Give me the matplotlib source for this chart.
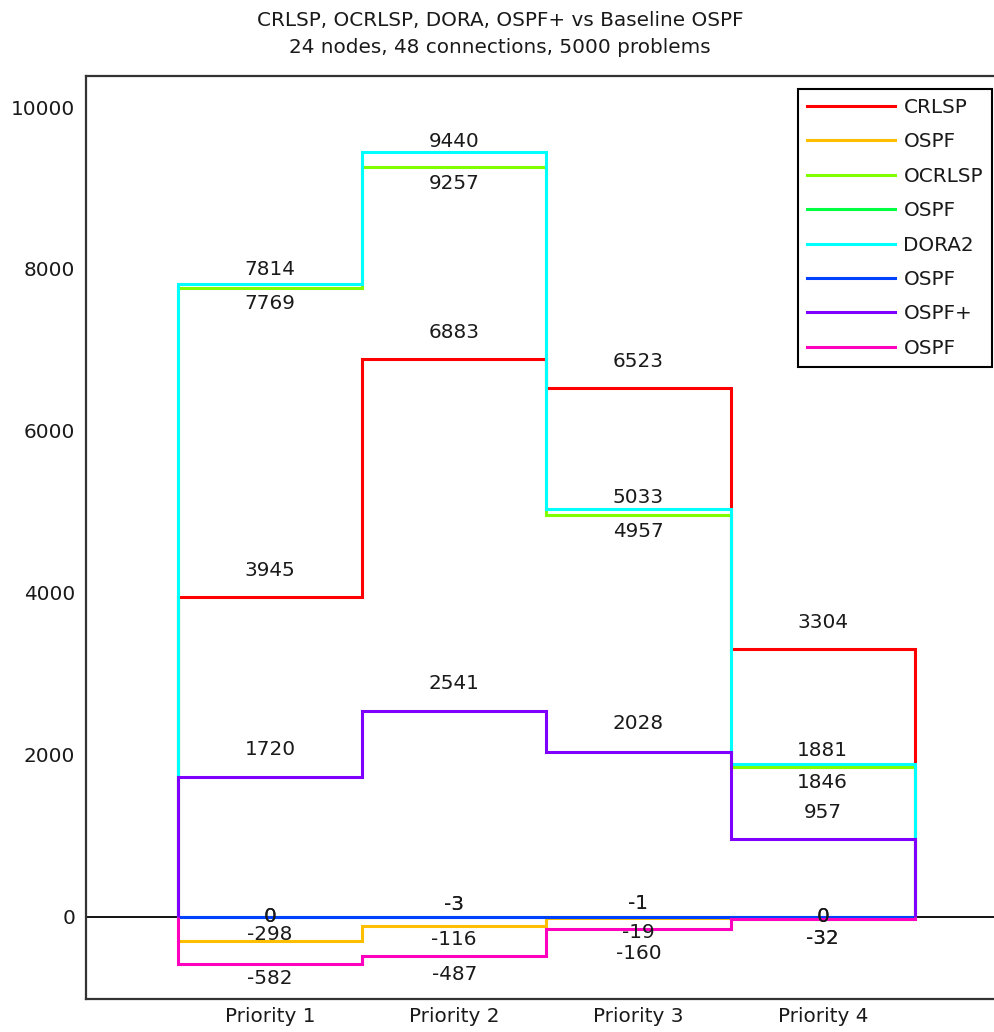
import matplotlib
matplotlib.use("Agg")
import matplotlib.pyplot as plt
from matplotlib.lines import Line2D
import numpy as np

# ---- data ----
categories = ["Priority 1", "Priority 2", "Priority 3", "Priority 4"]
series_names = ["CRLSP", "OSPF", "OCRLSP", "OSPF", "DORA2", "OSPF", "OSPF+", "OSPF"]
crlsp      = [3945, 6883, 6523, 3304]
ospf_crlsp = [-298, -116, -19, -32]
ocrlsp     = [7769, 9257, 4957, 1846]
ospf_ocr   = [0, -3, -1, 0]
dora2      = [7814, 9440, 5033, 1881]
ospf_dora  = [0, -3, -1, 0]
ospf_plus  = [1720, 2541, 2028, 957]
ospf_plusb = [-582, -487, -160, -32]
y_ticks = [0, 2000, 4000, 6000, 8000, 10000]

# ---- style ----
colors = ["#FF0000", "#FFBF00", "#80FF00", "#00FF40",
          "#00FFFF", "#0040FF", "#8000FF", "#FF00BF"]
# label vertical offsets from the line, in pixels (positive = up)
label_offsets_px = [
    [27, 27, 27, 27],
    [6, -14, -14, -19],
    [-16, -16, -16, -15],
    [0, 12, 13, 0],
    [14, 11, 12, 14],
    [0, 12, 13, 0],
    [28, 27, 29, 27],
    [-15, -19, -24, -19],
]

all_series = [crlsp, ospf_crlsp, ocrlsp, ospf_ocr, dora2, ospf_dora, ospf_plus, ospf_plusb]

W, H, DPI = 995, 1032, 100
fig = plt.figure(figsize=(W / DPI, H / DPI), dpi=DPI)
plt.rcParams['font.family'] = ['DejaVu Sans']
FS = 14.4
txt_color = "#1a1a1a"

ax = fig.add_axes([85.7 / W, 1 - 999 / H, (1007 - 85.7) / W, (999 - 75.7) / H])
ax.set_xlim(0, 5)
ax.set_ylim(-1019, 10387)

x = np.arange(1, len(categories) + 1)
edges = np.concatenate([x - 0.5, [x[-1] + 0.5]])

ax.axhline(0, color="black", lw=1.3, zorder=1)

lw = 2.2
handles = []
for i, (vals, col, name) in enumerate(zip(all_series, colors, series_names)):
    ax.stairs(vals, edges, baseline=0, fill=False, color=col, lw=lw,
              zorder=2 + i * 0.1, joinstyle="miter")
    handles.append(Line2D([], [], color=col, lw=lw, label=name))

for i, vals in enumerate(all_series):
    for j, v in enumerate(vals):
        ax.annotate(f"{v}", xy=(x[j], v), xytext=(0, label_offsets_px[i][j] * 72 / DPI),
                    textcoords="offset points", ha="center", va="center",
                    fontsize=FS, color=txt_color, zorder=10)

ax.set_xticks(x)
ax.set_xticklabels(categories)
ax.set_yticks(y_ticks)
ax.set_yticklabels([str(t) for t in y_ticks])
ax.tick_params(axis="both", length=0, labelsize=FS, colors=txt_color)
ax.tick_params(axis="x", pad=6)
ax.tick_params(axis="y", pad=7.7)
for s in ["left", "top", "bottom", "right"]:
    ax.spines[s].set_color("#333333")
    ax.spines[s].set_linewidth(1.6)

fig.text(500 / W, 1 - 21 / H, "CRLSP, OCRLSP, DORA, OSPF+ vs Baseline OSPF",
         ha="center", va="center", fontsize=FS, color=txt_color)
fig.text(500 / W, 1 - 47.5 / H, "24 nodes, 48 connections, 5000 problems",
         ha="center", va="center", fontsize=FS, color=txt_color)

leg = ax.legend(handles=handles, loc="upper right",
                bbox_to_anchor=(992 / W, 1 - 89 / H), bbox_transform=fig.transFigure,
                borderaxespad=0, fontsize=FS, handlelength=4.4, handletextpad=0.4,
                labelspacing=0.77, borderpad=0.45, fancybox=False, framealpha=1)
leg.get_frame().set_edgecolor("black")
leg.get_frame().set_linewidth(1.5)
for t in leg.get_texts():
    t.set_color(txt_color)

fig.savefig("out.png", dpi=DPI)
